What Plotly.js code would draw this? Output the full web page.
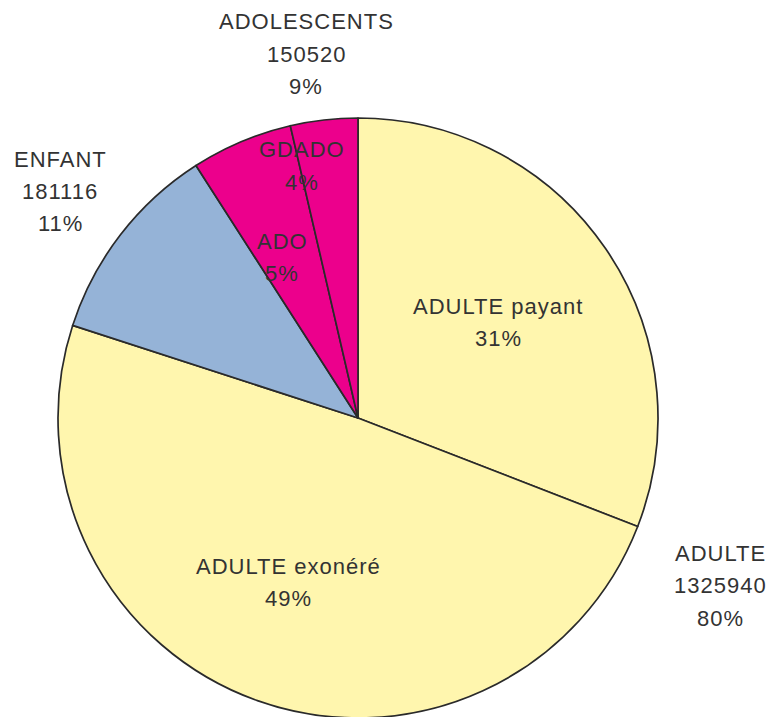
<!DOCTYPE html>
<html><head><meta charset="utf-8">
<script src="https://cdn.plot.ly/plotly-3.0.1.min.js"></script>
<style>html,body{margin:0;padding:0;overflow:hidden;background:#fff}#chart{width:776px;height:718px}
.annotation-text{letter-spacing:1px}</style>
</head><body><div id="chart"></div>
<script>
// slice data (clockwise from 12 o'clock)
const sliceLabels = ["ADULTE payant", "ADULTE exonéré", "ENFANT", "ADO", "GDADO"];
const sliceValues = [512000, 813940, 181116, 90500, 60020];
const sliceColors = ["#FFF6AE", "#FFF6AE", "#95B3D7", "#EC008C", "#EC008C"];
// group data
const groupLabels = ["ADULTE", "ENFANT", "ADOLESCENTS"];
const groupValues = [1325940, 181116, 150520];

const total = sliceValues.reduce((a, b) => a + b, 0);
const pct = v => Math.round(100 * v / total) + "%";

const W = 776, H = 718;
const font = {family: "Liberation Sans, Arial, sans-serif", size: 22, color: "#333333"};
// label anchor centres in pixels (first line y, line spacing)
const sliceLabelPos = [[498, 306], [288, 566], null, [282, 241], [302, 150]];
const groupLabelPos = [[720, 553], [60, 159], [306, 22]];
const lineGap = 32.5;

const annotations = [];
function addBlock(lines, pos) {
  lines.forEach((t, i) => {
    annotations.push({text: t, x: pos[0] / W, y: 1 - (pos[1] + i * lineGap) / H,
      xref: "paper", yref: "paper", showarrow: false, xanchor: "center", yanchor: "middle", font: font});
  });
}
sliceLabels.forEach((l, i) => { if (sliceLabelPos[i]) addBlock([l, pct(sliceValues[i])], sliceLabelPos[i]); });
groupLabels.forEach((l, i) => addBlock([l, String(groupValues[i]), pct(groupValues[i])], groupLabelPos[i]));

const data = [{
  type: "pie", labels: sliceLabels, values: sliceValues, sort: false,
  direction: "clockwise", rotation: 0, textinfo: "none", hoverinfo: "none",
  marker: {colors: sliceColors, line: {color: "#2a2a2a", width: 1.7}},
  domain: {x: [58 / W, 658 / W], y: [0, 600 / H]}, showlegend: false
}];
const layout = {width: W, height: H, margin: {l: 0, r: 0, t: 0, b: 0},
  paper_bgcolor: "#ffffff", annotations: annotations, showlegend: false};
Plotly.newPlot("chart", data, layout, {staticPlot: true});
</script></body></html>
